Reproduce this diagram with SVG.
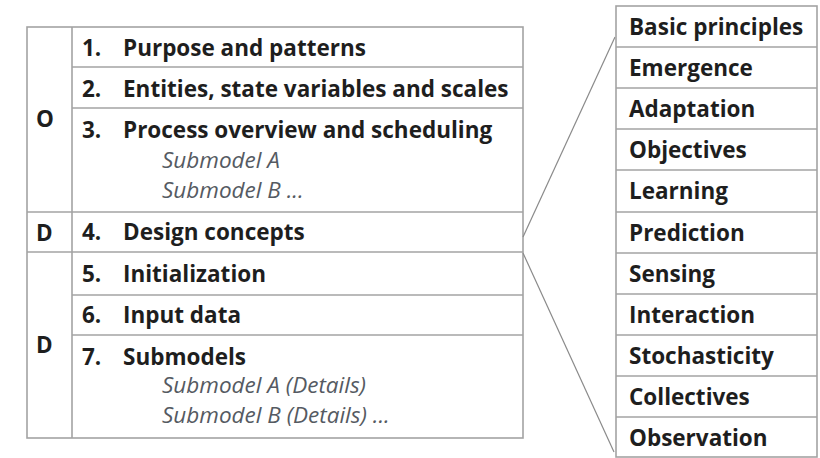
<svg xmlns="http://www.w3.org/2000/svg" width="820" height="458" viewBox="0 0 820 458">
<style>
.grid{stroke:#a3a3a3;stroke-width:1.6;fill:none}
.conn{stroke:#8a8a8a;stroke-width:1.2;fill:none}
.t{font-family:"Open Sans","Liberation Sans",sans-serif;font-weight:bold;font-size:22.5px;fill:#1e1e1e}
.s{font-family:"Open Sans","Liberation Sans",sans-serif;font-style:italic;font-size:22.5px;fill:#555a62}
</style>
<rect width="820" height="458" fill="#ffffff"/>
<g id="odd-table">
<rect class="grid" x="27" y="27" width="496" height="411"/>
<line class="grid" x1="72" y1="27" x2="72" y2="438"/>
<line class="grid" x1="72" y1="67" x2="523" y2="67"/>
<line class="grid" x1="72" y1="108" x2="523" y2="108"/>
<line class="grid" x1="27" y1="212" x2="523" y2="212"/>
<line class="grid" x1="27" y1="252" x2="523" y2="252"/>
<line class="grid" x1="72" y1="295" x2="523" y2="295"/>
<line class="grid" x1="72" y1="335" x2="523" y2="335"/>
</g>
<g id="group-O"><text class="t" x="36" y="127">O</text></g>
<g id="group-D1"><text class="t" x="36" y="241">D</text></g>
<g id="group-D2"><text class="t" x="36" y="353">D</text></g>
<g id="row1"><text class="t" x="82" y="56">1.</text><text class="t" x="123" y="56">Purpose and patterns</text></g>
<g id="row2"><text class="t" x="82" y="97">2.</text><text class="t" x="123" y="97">Entities, state variables and scales</text></g>
<g id="row3"><text class="t" x="82" y="138">3.</text><text class="t" x="123" y="138">Process overview and scheduling</text>
<text class="s" x="162" y="168">Submodel A</text><text class="s" x="162" y="198">Submodel B  ...</text></g>
<g id="row4"><text class="t" x="82" y="240">4.</text><text class="t" x="123" y="240">Design concepts</text></g>
<g id="row5"><text class="t" x="82" y="282">5.</text><text class="t" x="123" y="282">Initialization</text></g>
<g id="row6"><text class="t" x="82" y="323">6.</text><text class="t" x="123" y="323">Input data</text></g>
<g id="row7"><text class="t" x="82" y="365">7.</text><text class="t" x="123" y="365">Submodels</text>
<text class="s" x="162" y="393">Submodel A (Details)</text><text class="s" x="162" y="423">Submodel B (Details) ...</text></g>
<g id="connectors">
<line class="conn" x1="523" y1="237" x2="615" y2="37"/>
<line class="conn" x1="523" y1="253" x2="614" y2="452"/>
</g>
<g id="design-concepts-table">
<rect class="grid" x="616" y="6" width="201" height="451"/>
<line class="grid" x1="616" y1="47" x2="817" y2="47"/>
<line class="grid" x1="616" y1="88" x2="817" y2="88"/>
<line class="grid" x1="616" y1="129" x2="817" y2="129"/>
<line class="grid" x1="616" y1="170" x2="817" y2="170"/>
<line class="grid" x1="616" y1="212" x2="817" y2="212"/>
<line class="grid" x1="616" y1="253" x2="817" y2="253"/>
<line class="grid" x1="616" y1="294" x2="817" y2="294"/>
<line class="grid" x1="616" y1="335" x2="817" y2="335"/>
<line class="grid" x1="616" y1="376" x2="817" y2="376"/>
<line class="grid" x1="616" y1="417" x2="817" y2="417"/>
</g>
<g id="dc-basic"><text class="t" x="629" y="35">Basic principles</text></g>
<g id="dc-emergence"><text class="t" x="629" y="76">Emergence</text></g>
<g id="dc-adaptation"><text class="t" x="629" y="117">Adaptation</text></g>
<g id="dc-objectives"><text class="t" x="629" y="158">Objectives</text></g>
<g id="dc-learning"><text class="t" x="629" y="199">Learning</text></g>
<g id="dc-prediction"><text class="t" x="629" y="241">Prediction</text></g>
<g id="dc-sensing"><text class="t" x="629" y="282">Sensing</text></g>
<g id="dc-interaction"><text class="t" x="629" y="323">Interaction</text></g>
<g id="dc-stochasticity"><text class="t" x="629" y="364">Stochasticity</text></g>
<g id="dc-collectives"><text class="t" x="629" y="405">Collectives</text></g>
<g id="dc-observation"><text class="t" x="629" y="446">Observation</text></g>
</svg>
